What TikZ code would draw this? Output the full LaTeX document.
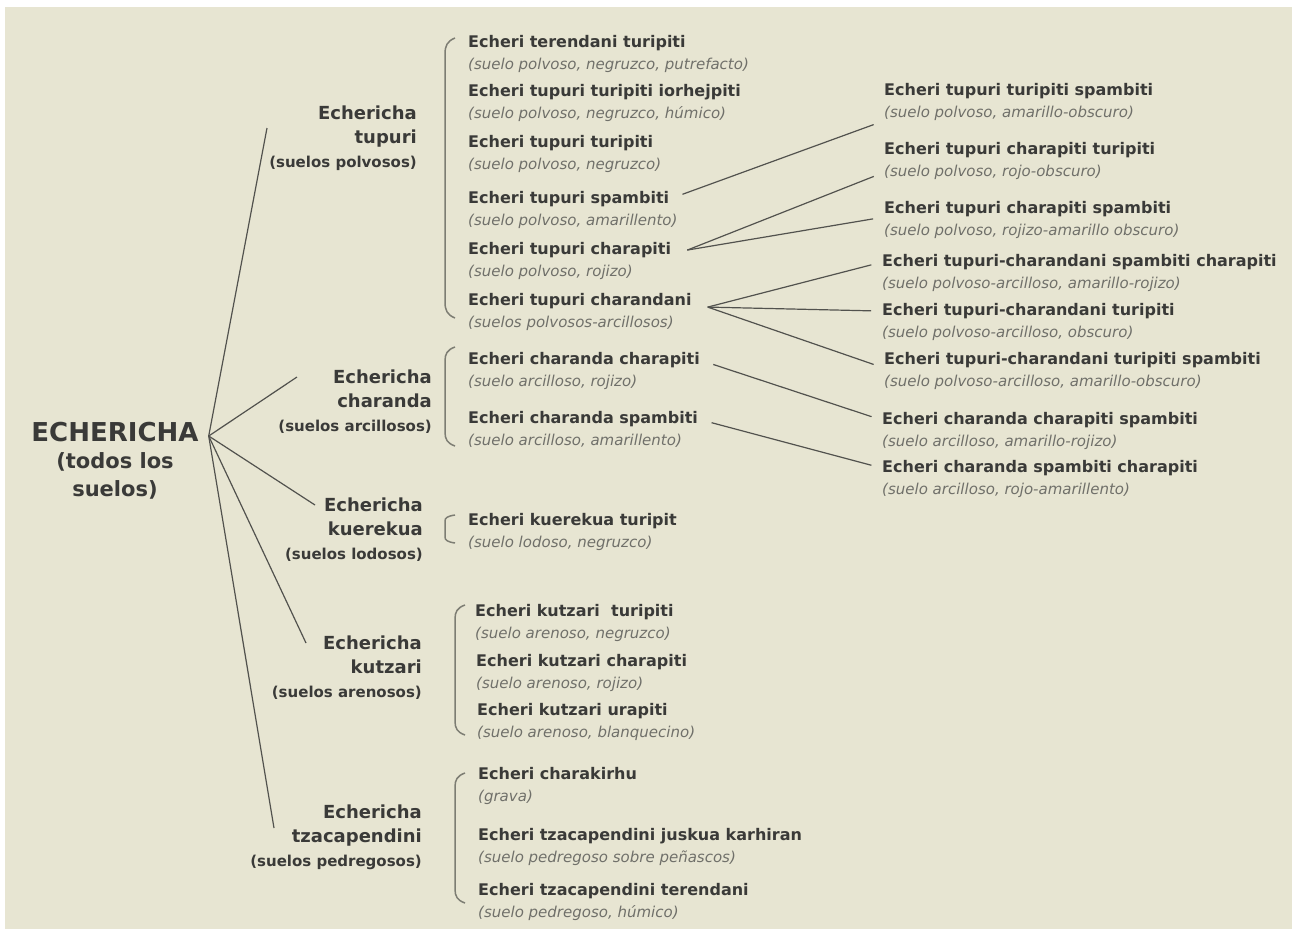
\documentclass[tikz,border=0pt]{standalone}
\usepackage{fontspec}
\setmainfont{DejaVu Sans}
\usetikzlibrary{positioning}

\definecolor{paper}{RGB}{231,229,210}
\definecolor{ink}{RGB}{58,58,56}
\definecolor{note}{RGB}{112,112,106}
\definecolor{wire}{RGB}{82,82,78}
\definecolor{bracketc}{RGB}{125,125,115}

\newcommand\fs[2]{\fontsize{#1pt}{#2pt}\selectfont}
% one soil: bold name with its description below
\newcommand\soil[5]{%
  \node (#1) [ttl] at (#2,#3) {#4};
  \node (#1s) [sbt] at ([yshift=-22pt]#1.base west) {#5};}

\begin{document}
\begin{tikzpicture}[x=1pt,y=-1pt,
  ttl/.style={anchor=base west, inner sep=0pt, font=\fs{16}{19}\bfseries, text=ink},
  sbt/.style={anchor=base west, inner sep=0pt, font=\fs{15}{18}\itshape, text=note},
  grp/.style={anchor=east, inner sep=0pt, align=right, font=\fs{18}{24}\bfseries, text=ink},
  branch/.style={draw=wire, line width=1.2pt},
  shortlink/.style={shorten <=14pt, shorten >=11pt}]

\useasboundingbox (0,0) rectangle (1298,938);
\fill[paper] (5,7) rectangle (1292,929);

% root
\node (root) [inner sep=0pt, font=\fs{26}{30}\bfseries, text=ink] at (115,432) {ECHERICHA};
\node (rootsub) [below=10pt of root, align=center, inner sep=0pt, font=\fs{21}{28}\bfseries, text=ink] {(todos los\\suelos)};

% first level
\node (tup) [grp] at (417,138) {Echericha\\tupuri\\{\fs{15}{20}(suelos polvosos)}};
\node (cha) [grp] at (432,401.5) {Echericha\\charanda\\{\fs{15}{20}(suelos arcillosos)}};
\node (kue) [grp] at (423,530) {Echericha\\kuerekua\\{\fs{15}{20}(suelos lodosos)}};
\node (kut) [grp] at (422,668) {Echericha\\kutzari\\{\fs{15}{20}(suelos arenosos)}};
\node (tza) [grp] at (422,837.5) {Echericha\\tzacapendini\\{\fs{15}{20}(suelos pedregosos)}};

% second level
\soil{tup1}{468}{47.5}{Echeri terendani turipiti}{(suelo polvoso, negruzco, putrefacto)}
\soil{tup2}{468}{96.5}{Echeri tupuri turipiti iorhejpiti}{(suelo polvoso, negruzco, húmico)}
\soil{tup3}{468}{147.5}{Echeri tupuri turipiti}{(suelo polvoso, negruzco)}
\soil{tup4}{468}{203.5}{Echeri tupuri spambiti}{(suelo polvoso, amarillento)}
\soil{tup5}{468}{254.5}{Echeri tupuri charapiti}{(suelo polvoso, rojizo)}
\soil{tup6}{468}{305.5}{Echeri tupuri charandani}{(suelos polvosos-arcillosos)}
\soil{cha1}{468}{364.5}{Echeri charanda charapiti}{(suelo arcilloso, rojizo)}
\soil{cha2}{468}{423.5}{Echeri charanda spambiti}{(suelo arcilloso, amarillento)}
\soil{kue1}{468}{525.5}{Echeri kuerekua turipit}{(suelo lodoso, negruzco)}
\soil{kut1}{475}{616.5}{Echeri kutzari\ \ turipiti}{(suelo arenoso, negruzco)}
\soil{kut2}{476}{666.5}{Echeri kutzari charapiti}{(suelo arenoso, rojizo)}
\soil{kut3}{477}{715.5}{Echeri kutzari urapiti}{(suelo arenoso, blanquecino)}
\soil{tza1}{478}{779.5}{Echeri charakirhu}{(grava)}
\soil{tza2}{478}{840.5}{Echeri tzacapendini juskua karhiran}{(suelo pedregoso sobre peñascos)}
\soil{tza3}{478}{895.5}{Echeri tzacapendini terendani}{(suelo pedregoso, húmico)}

% third level
\soil{tt1}{884}{95.5}{Echeri tupuri turipiti spambiti}{(suelo polvoso, amarillo-obscuro)}
\soil{tt2}{884}{154.5}{Echeri tupuri charapiti turipiti}{(suelo polvoso, rojo-obscuro)}
\soil{tt3}{884}{213.5}{Echeri tupuri charapiti spambiti}{(suelo polvoso, rojizo-amarillo obscuro)}
\soil{tc1}{882}{266.5}{Echeri tupuri-charandani spambiti charapiti}{(suelo polvoso-arcilloso, amarillo-rojizo)}
\soil{tc2}{882}{315.5}{Echeri tupuri-charandani turipiti}{(suelo polvoso-arcilloso, obscuro)}
\soil{tc3}{884}{364.5}{Echeri tupuri-charandani turipiti spambiti}{(suelo polvoso-arcilloso, amarillo-obscuro)}
\soil{cc1}{882}{424.5}{Echeri charanda charapiti spambiti}{(suelo arcilloso, amarillo-rojizo)}
\soil{cc2}{882}{472.5}{Echeri charanda spambiti charapiti}{(suelo arcilloso, rojo-amarillento)}

% brackets
\foreach \x/\t/\b/\r in {445/38/318/16, 445/347/446/14, 445/515/543/6, 455/605/735/14, 455/773/903/14}
  \draw[bracketc, line width=1.5pt] (\x+10,\t) .. controls (\x+2,\t+0.2*\r) and (\x,\t+0.5*\r) .. (\x,\t+\r)
    -- (\x,\b-\r) .. controls (\x,\b-0.5*\r) and (\x+2,\b-0.2*\r) .. (\x+10,\b);

% root branches
\coordinate (rootj) at ([xshift=10pt,yshift=-4pt]root.east);
\coordinate (tupL) at (267,128);
\coordinate (chaL) at (297,377);
\coordinate (kueL) at (315,505);
\coordinate (kutL) at (306,643);
\coordinate (tzaL) at (274,828);
\foreach \g in {tupL,chaL,kueL,kutL,tzaL}
  \draw[branch] (rootj) -- (\g);

% second to third level
\draw[branch,shortlink] (tup4.east) -- (tt1s.south west);
\coordinate (tup5j) at ([xshift=16pt]tup5.east);
\draw[branch,shorten >=11pt] (tup5j) -- (tt2s.west);
\draw[branch,shorten >=11pt] (tup5j) -- (tt3.south west);
\coordinate (tup6j) at ([xshift=16pt,yshift=-6pt]tup6.east);
\draw[branch,shorten >=11pt] (tup6j) -- (tc1.west);
\draw[branch,shorten >=11pt] (tup6j) -- (tc2.west);
\draw[branch,shorten >=11pt] (tup6j) -- (tc3.south west);
\draw[branch,shortlink] (cha1.east) -- (cc1.west);
\draw[branch,shortlink] (cha2.east) -- (cc2.west);

\end{tikzpicture}
\end{document}
